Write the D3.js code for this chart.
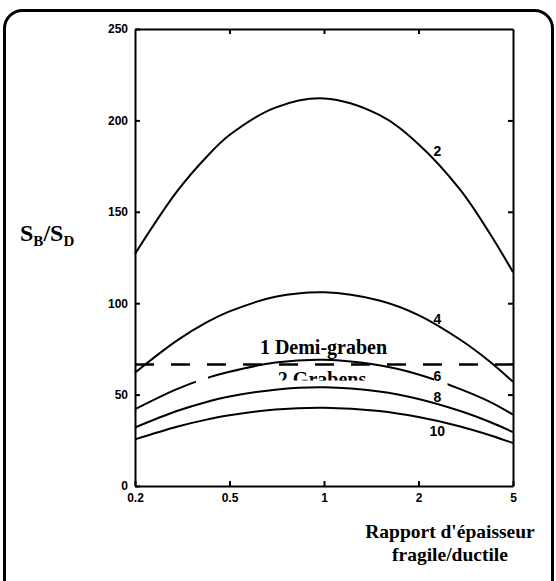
<!DOCTYPE html>
<html><head><meta charset="utf-8">
<script src="https://cdn.jsdelivr.net/npm/d3@7"></script>
<style>
body{margin:0;background:#fff}
.tick text{font-family:"Liberation Sans",Arial,sans-serif;font-weight:bold;font-size:12px;fill:#000}
.serif{font-family:"Liberation Serif","Times New Roman",serif;font-weight:bold;fill:#000}
</style>
</head><body><svg id="c" width="556" height="581"></svg>
<script>
// ---- data ----
const xTicks = [0.2, 0.5, 1, 2, 5];
const yTicks = [0, 50, 100, 150, 200, 250];
const xSamples = [0.2, 0.3, 0.4, 0.5, 0.7, 1, 1.5, 2, 3, 4, 5];
const curve2  = [127, 161, 180, 192, 207, 212, 203, 187, 162, 138, 117];
const curve4  = [62, 79.5, 89.5, 95.5, 103.5, 106, 101.5, 93.5, 80, 68, 57];
const curve6  = [42, 53, 59, 62.5, 67.5, 69, 66, 61, 53, 46, 39];
const curve8  = [32, 41, 46, 49, 52.7, 54, 51.7, 47.6, 41, 35, 29.5];
const curve10 = [25.5, 32.4, 36.3, 38.7, 41.8, 42.8, 41, 37.7, 32.6, 27.8, 23.5];
const curveNames = ["2", "4", "6", "8", "10"];
const labelX = [2.4, 2.4, 2.4, 2.4, 2.4];
const labelY = [183, 91.5, 60.2, 48.7, 30];
const threshold = 66.5;            // 1 Demi-graben / 2 Grabens
const curve6Gaps = [[0.361, 0.406], [2.33, 2.65]];
const regionTexts = ["1 Demi-graben", "2 Grabens"];
const xTitle = ["Rapport d'épaisseur", "fragile/ductile"];

// ---- layout ----
const svg = d3.select("#c");
const L = 135, R = 513, T = 29, B = 486;

svg.append("rect").attr("x", 4.5).attr("y", 10.5).attr("width", 548).attr("height", 600)
  .attr("rx", 18).attr("fill", "none").attr("stroke", "#000").attr("stroke-width", 3);

const x = d3.scaleLog().domain(xTicks)
  .range(xTicks.map((d, i) => L + i * (R - L) / (xTicks.length - 1)));
const y = d3.scaleLinear().domain([0, 250]).range([B, T]);

const series = [curve2, curve4, curve6, curve8, curve10];
const line = d3.line().x((d, i) => x(xSamples[i])).y(d => y(d)).curve(d3.curveCatmullRom.alpha(0.5));

// clip for curve 6 gaps
const defs = svg.append("defs");
const cp6 = defs.append("clipPath").attr("id", "gap6");
let edges = [L - 2];
curve6Gaps.forEach(g => { edges.push(x(g[0])); edges.push(x(g[1])); });
edges.push(R + 2);
for (let i = 0; i < edges.length; i += 2) {
  cp6.append("rect").attr("x", edges[i]).attr("y", 0).attr("width", edges[i + 1] - edges[i]).attr("height", 581);
}
const cpG = defs.append("clipPath").attr("id", "grab");
cpG.append("rect").attr("x", 0).attr("y", 0).attr("width", 556).attr("height", 380.5);

series.forEach((s, k) => {
  svg.append("path").datum(s).attr("d", line)
    .attr("fill", "none").attr("stroke", "#000").attr("stroke-width", 2)
    .attr("clip-path", k === 2 ? "url(#gap6)" : null);
});

// threshold dashed line
svg.append("line").attr("x1", x(0.2)).attr("x2", x(5)).attr("y1", y(threshold)).attr("y2", y(threshold))
  .attr("stroke", "#000").attr("stroke-width", 2.6).attr("stroke-dasharray", "19,17");

// axes
const axL = d3.axisLeft(y).tickValues(yTicks).tickSize(-5).tickSizeOuter(0).tickPadding(7);
const axR = d3.axisRight(y).tickValues(yTicks.slice(1, 5)).tickSize(-5).tickSizeOuter(0).tickFormat("");
const axB = d3.axisBottom(x).tickValues(xTicks).tickSize(-5).tickSizeOuter(0).tickPadding(7).tickFormat(d3.format("~g"));
const axT = d3.axisTop(x).tickValues(xTicks.slice(1, 4)).tickSize(-5).tickSizeOuter(0).tickFormat("");
[[axL, `translate(${L},0)`], [axR, `translate(${R},0)`], [axB, `translate(0,${B})`], [axT, `translate(0,${T})`]]
  .forEach(([a, t]) => {
    const g = svg.append("g").attr("transform", t).call(a);
    g.selectAll("path,line").attr("stroke", "#000").attr("stroke-width", 2);
  });
svg.selectAll(".tick text").attr("font-family", null).attr("font-size", null);

// curve labels
curveNames.forEach((n, i) => {
  svg.append("text").attr("x", x(labelX[i])).attr("y", y(labelY[i]))
    .attr("text-anchor", "middle").attr("dominant-baseline", "central")
    .attr("font-family", "Liberation Sans, Arial, sans-serif").attr("font-weight", "bold")
    .attr("font-size", 14).text(n);
});

// region labels
svg.append("text").attr("class", "serif").attr("x", 323.5).attr("y", 354)
  .attr("text-anchor", "middle").attr("font-size", 20).text(regionTexts[0]);
svg.append("text").attr("class", "serif").attr("x", 322).attr("y", 386)
  .attr("text-anchor", "middle").attr("font-size", 20).attr("clip-path", "url(#grab)").text(regionTexts[1]);

// axis titles
xTitle.forEach((t, i) => {
  svg.append("text").attr("class", "serif").attr("x", 450).attr("y", 538 + i * 23)
    .attr("text-anchor", "middle").attr("font-size", 19.5).text(t);
});
const yl = svg.append("text").attr("class", "serif").attr("x", 20).attr("y", 241).attr("font-size", 24);
yl.append("tspan").text("S");
yl.append("tspan").attr("font-size", 15).attr("dy", 5).text("B");
yl.append("tspan").attr("dy", -5).text("/S");
yl.append("tspan").attr("font-size", 15).attr("dy", 5).text("D");
</script></body></html>
